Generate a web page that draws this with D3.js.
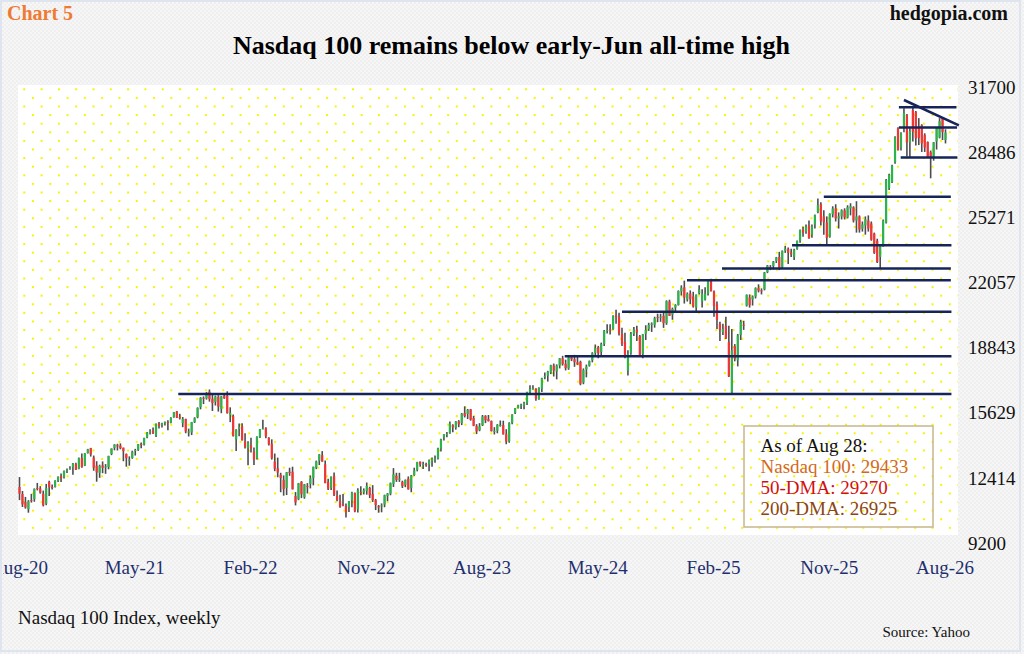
<!DOCTYPE html>
<html><head><meta charset="utf-8">
<script src="https://cdn.jsdelivr.net/npm/d3@7"></script>
<style>html,body{margin:0;padding:0;background:#fff} svg{display:block}</style>
</head><body>
<svg id="chart" width="1024" height="654"></svg>
<script>
// ---------------- DATA ----------------
const firstWeek = "2020-08-31";            // weekly candles, one per week
const xTickLabels = ["Aug-20","May-21","Feb-22","Nov-22","Aug-23","May-24","Feb-25","Nov-25","Aug-26"];
const xTickEvery = 39;                      // weeks between labels
const yTicks = [9200,12414,15629,18843,22057,25271,28486,31700];

const open = [
// 2020
11950,11600,11200,10850,11300,11350,11900,11870,11620,11120,12200,11950,11950,12270,12480,12420,12760,12850,
// 2021
12920,13090,12850,13380,13000,13620,13870,13400,13000,12650,13020,12920,12930,13580,13880,14010,13990,13890,13580,13300,13380,13750,13780,14080,14040,14400,14660,14730,14500,15080,15000,15100,15150,15120,15400,15680,15400,15100,15300,14650,14640,15150,15390,15890,16350,16320,16650,16300,16150,16400,15800,16450,
// 2022
16450,15500,15450,14300,14820,14950,14200,13870,14000,13700,13360,14400,14830,14850,14380,14080,13200,12880,12550,12300,11900,12700,12700,11500,11350,12200,11450,12000,12100,12400,12900,13250,13520,13070,12200,11900,12500,11500,11250,11100,11000,10950,11300,11650,10850,11700,11680,11750,11900,11600,11300,11000,
// 2023
11000,11080,11500,11620,12100,12500,12350,12200,12050,12360,11900,12540,12800,13200,13050,13080,13050,13240,13300,13360,13850,14400,14550,14600,15000,14880,15190,15100,15600,15550,15780,15350,14950,14750,15000,15460,15300,15200,14680,14730,15000,15000,14550,14200,15100,15600,15850,15980,15980,16100,16630,16810,
// 2024
16800,16280,16800,17370,17440,17600,17950,17650,17950,18300,18030,17800,18350,18250,18100,18120,17100,17750,17930,18200,18560,18850,18610,19000,19680,19720,19740,20420,20350,19500,19100,17700,18550,19500,19720,19400,18500,19500,19750,19950,19950,20330,20300,20400,20030,21100,20450,20800,20930,21600,21800,21200,
// 2025
21500,21350,20800,21520,21100,21200,21500,22150,21600,20950,20000,19600,19900,19100,16600,18900,18200,19450,19950,20900,21300,21200,21350,21760,21650,21700,22550,22800,22850,23100,23300,22800,23600,23700,23520,23300,23700,24100,24650,24550,24850,24400,24900,25500,25900,25300,25000,24300,25400,25700,25200,25300,
// 2026
25600,25250,25700,25750,25100,25300,24700,24850,25100,24950,24450,24100,23300,23880,25000,26700,27000,27980,29650,28700,29700,30300,28950,30550,30450,29650,29800,29310,28970,28470,28200,29000,29200,30150,29070
];
const high = [
// 2020
12440,11750,11460,11300,11610,11880,12150,11990,11770,12100,12260,12070,12280,12470,12610,12760,12860,12970,
// 2021
13130,13150,13400,13600,13620,13830,13880,13500,13220,13050,13210,13080,13490,13850,14060,14080,14100,13890,13600,13460,13740,13830,14070,14150,14380,14660,14800,14890,15080,15150,15120,15180,15240,15390,15650,15700,15560,15400,15320,14830,15160,15390,15880,16380,16420,16630,16760,16570,16460,16480,16440,16570,
// 2022
16670,15880,15520,14800,15080,15090,14600,14200,14380,13900,14450,14810,15270,14900,14400,14300,13600,13400,12650,12520,12690,12900,12950,11700,12150,12240,12100,12140,12520,12950,13250,13570,13720,13250,12350,12470,12660,11780,11560,11600,11130,11260,11710,11680,11890,11990,11880,12170,11960,12040,11360,11060,
// 2023
11140,11570,11650,12170,12880,12650,12650,12260,12320,12470,12540,12900,13190,13210,13200,13150,13300,13400,13500,13880,14330,14550,14660,15180,15050,15200,15250,15600,15930,15800,15800,15450,15050,15100,15500,15490,15500,15230,14900,15050,15230,15220,14800,15140,15540,15850,16010,16060,16150,16650,16970,16970,
// 2024
16820,16870,17340,17600,17680,17980,18040,18000,18310,18420,18230,18460,18420,18470,18460,18180,17800,17990,18190,18600,18980,18910,19070,19700,19980,19980,20420,20690,20550,19800,19560,18700,19600,19840,19900,19450,19500,19930,20050,20070,20350,20500,20500,20580,21160,21190,20800,20970,21650,21900,22130,21550,
// 2025
21650,21580,21450,21900,21700,21800,22150,22220,21650,21100,20100,20000,20350,19900,19750,19000,19500,20200,20150,21450,21450,21400,21800,21950,21750,22560,22900,22900,23100,23300,23550,23620,23850,23760,23700,23700,24110,24650,24790,24900,25100,24900,25400,26180,26000,25600,25300,25450,25800,25900,25500,25650,
// 2026
25700,25850,25950,25800,26050,25350,25050,25300,25350,25050,24500,24200,23900,25150,27150,27400,27850,29250,29700,29450,30640,30350,29650,30710,30500,30150,29850,29400,29000,28550,28970,29700,30150,30150,29600
];
const low = [
// 2020
11300,10960,10880,10680,11180,11220,11780,11620,10990,11050,11500,11820,11920,12200,12200,12370,12640,12800,
// 2021
12550,12790,12830,12900,12980,13600,13450,12750,12210,12400,12630,12600,12820,13520,13760,13750,13810,13220,12950,13000,13340,13500,13730,13860,13990,14350,14540,14560,14420,14840,14880,14980,14750,15090,15360,15350,15280,14900,14600,14440,14510,15110,15340,15780,16040,16260,16160,15700,15970,15670,15590,16300,
// 2022
15570,15150,14440,13730,14450,14240,13850,13020,13650,13040,13300,14370,14800,14350,13990,13300,12730,12430,11690,11520,11550,12500,11830,11040,11300,11400,11370,11630,11880,12030,12830,13030,13200,12130,11800,11800,11500,11240,10930,11000,10440,10720,10950,10700,10690,11540,11580,11570,11400,11210,10810,10680,
// 2023
10700,10950,11250,11540,11950,12200,12200,11900,11940,11820,11690,12500,12720,12950,12840,12950,12720,12950,13150,13300,13700,14240,14400,14580,14650,14780,14900,15000,15380,15300,15220,14950,14560,14700,14960,15100,15180,14690,14540,14600,14930,14540,14060,14130,15040,15550,15820,15800,15780,16000,16500,16750,
// 2024
16200,16250,16640,17270,17150,17520,17400,17260,17800,17940,17700,17730,18160,17880,17970,16970,17020,17360,17890,18100,18450,18300,18460,18900,19520,19470,19710,20000,19420,18900,18300,17450,18480,19400,19150,18400,18300,19200,19650,19600,19810,20080,20100,19800,19950,20390,20200,20600,20900,21400,21000,21100,
// 2025
20980,20800,20540,21450,20800,21150,21400,21600,20350,19750,19150,19450,19250,17370,16540,18150,17900,19200,19700,20850,20800,20900,21250,21550,21450,21650,22500,22650,22680,23000,22650,22750,23500,22950,23300,23150,23650,24000,24300,24450,24200,24250,24700,25450,24850,24400,23870,24250,25250,25050,24700,25150,
// 2026
25150,25200,25350,25000,24500,24500,24550,24400,24550,24100,23450,23000,22720,23800,24950,26600,26950,27900,28550,28550,29450,28250,28200,29000,28800,28820,28480,28480,28180,27180,28050,28600,29150,29070,28900
];
const close = [
// 2020
11620,11090,10940,11240,11290,11850,11850,11670,11050,11900,11940,11900,12260,12460,12380,12740,12800,12890,
// 2021
13110,12800,13370,12930,13610,13810,13550,12910,12670,12990,12890,12960,13480,13850,14040,13950,13860,13720,13370,13300,13690,13770,14070,14020,14370,14640,14690,14590,15070,14960,15090,15160,15100,15370,15650,15370,15330,15310,14690,14680,15150,15340,15850,16350,16300,16570,16280,16090,16410,15910,16420,16320,
// 2022
15590,15610,14460,14780,14910,14250,13900,14140,13840,13300,14420,14800,14840,14450,14050,13360,12850,12660,12390,11840,12680,12640,11830,11190,12130,11590,12080,11980,12380,12950,13210,13560,13200,12140,11860,12460,11550,11310,10970,11040,10690,11250,11670,10750,11800,11680,11790,12000,11540,11300,11060,10940,
// 2023
11040,11540,11620,12140,12570,12300,12360,11990,12300,11830,12520,12770,13180,13060,13080,13070,13250,13340,13340,13850,14300,14550,14570,15080,14890,15180,15040,15570,15450,15750,15270,14970,14690,14940,15430,15240,15200,14700,14720,15020,15000,14540,14180,15100,15530,15840,15980,16000,16080,16620,16780,16830,
// 2024
16310,16830,17310,17420,17640,17960,17690,17940,18300,18020,17810,18340,18250,18110,18000,17040,17720,17890,18160,18550,18810,18540,19000,19660,19700,19680,20390,20330,19520,19020,18440,18510,19510,19720,19570,18420,19490,19700,19950,20010,20270,20320,20350,20030,21120,20390,20740,20930,21620,21780,21290,21490,
// 2025
21210,20850,21440,21700,21480,21490,22110,21610,20880,20200,19700,19750,19280,17400,18690,18260,19430,20100,19920,21430,20920,21340,21760,21630,21630,22530,22870,22780,23070,23270,22760,23600,23710,23500,23420,23650,24090,24630,24500,24790,24220,24820,25360,25860,25060,25010,24240,25430,25690,25200,25300,25600,
// 2026
25250,25750,25800,25100,25300,24650,24900,25150,24700,24150,23500,23050,23850,25100,27100,27350,27800,29200,28600,29400,30400,28950,29500,29480,29150,29160,28900,28700,28200,28180,28950,29650,30000,29460,29433
];

// drawn support / resistance levels (value, first week, last week)
const levelValues = [30684, 29686, 28206, 26272, 23874, 22729, 22152, 20598, 18402, 16537];
const levelFrom   = [296.3, 296.3, 296.9, 271.0, 260.3, 236.7, 224.9, 203.0, 183.7, 53.5];
const levelTo     = [315.7, 315.9, 316.0, 313.8, 314.0, 313.8, 313.8, 314.0, 314.0, 314.0];
// descending trendline (week, value)
const trendWeeks  = [298.0, 316.5];
const trendValues = [31043, 29794];

const legendTexts  = ["As of Aug 28:", "Nasdaq 100: 29433", "50-DMA: 29270", "200-DMA: 26925"];
const legendColors = ["#111111", "#d2691e", "#d10f14", "#8b4513"];

// ---------------- DRAW ----------------
const W = 1024, H = 654;
const FONT = "'Liberation Serif','Times New Roman',serif";
const svg = d3.select("#chart");

const defs = svg.append("defs");
const dots = defs.append("pattern").attr("id","dots").attr("patternUnits","userSpaceOnUse")
  .attr("x",23.3).attr("y",88.3).attr("width",17.3).attr("height",17.2);
dots.append("rect").attr("x",0).attr("y",0).attr("width",2).attr("height",2).attr("fill","#f7f300");
dots.append("rect").attr("x",8.65).attr("y",8.6).attr("width",2).attr("height",2).attr("fill","#f7f300");
const chk = defs.append("pattern").attr("id","chk").attr("patternUnits","userSpaceOnUse")
  .attr("width",4).attr("height",4);
chk.append("rect").attr("width",4).attr("height",4).attr("fill","#f6f6f6");
chk.append("rect").attr("width",2).attr("height",2).attr("fill","#efefef");
chk.append("rect").attr("x",2).attr("y",2).attr("width",2).attr("height",2).attr("fill","#efefef");
defs.append("clipPath").attr("id","pageClip")
  .append("rect").attr("x",3).attr("y",0).attr("width",W-3).attr("height",H);

// page background + border
svg.append("rect").attr("width",W).attr("height",H).attr("fill","url(#chk)");
svg.append("rect").attr("x",1).attr("y",1).attr("width",W-5).attr("height",H-4)
  .attr("fill","none").attr("stroke","#dfe5ee").attr("stroke-width",2);

// plot area
const plot = {x0:18, y0:85, x1:958, y1:535};
svg.append("rect").attr("x",plot.x0).attr("y",plot.y0).attr("width",plot.x1-plot.x0).attr("height",plot.y1-plot.y0).attr("fill","#ffffff");
svg.append("rect").attr("x",plot.x0).attr("y",plot.y0).attr("width",plot.x1-plot.x0).attr("height",plot.y1-plot.y0).attr("fill","url(#dots)");

// scales
const n = close.length;
const x = d3.scaleLinear().domain([0, n-1]).range([19.5, 945.5]);
const y = d3.scaleLinear().domain([yTicks[0], yTicks[yTicks.length-1]]).range([542.7, 86.7]);

const t0 = new Date(firstWeek + "T00:00:00");
const weeks = d3.range(n).map(i => ({
  i, date: d3.timeWeek.offset(t0, i), o: open[i], h: high[i], l: low[i], c: close[i]
}));

// candles
const cg = svg.append("g");
cg.selectAll("line.w").data(weeks).join("line").attr("class","w")
  .attr("x1", d => x(d.i)).attr("x2", d => x(d.i))
  .attr("y1", d => y(d.h)).attr("y2", d => y(d.l))
  .attr("stroke","#4d4d4d").attr("stroke-width",1.6);
cg.selectAll("rect.b").data(weeks).join("rect").attr("class","b")
  .attr("x", d => x(d.i) - 1.1).attr("width", 2.2)
  .attr("y", d => y(Math.max(d.o, d.c)))
  .attr("height", d => Math.max(1, Math.abs(y(d.o) - y(d.c))))
  .attr("fill", d => d.c >= d.o ? "#2db34e" : "#f23434");

// level lines
const lg = svg.append("g");
levelValues.forEach((v, k) => {
  lg.append("line").attr("x1", x(levelFrom[k])).attr("x2", x(levelTo[k]))
    .attr("y1", y(v)).attr("y2", y(v))
    .attr("stroke","#16245a").attr("stroke-width",2.6);
});
lg.append("line").attr("x1", x(trendWeeks[0])).attr("x2", x(trendWeeks[1]))
  .attr("y1", y(trendValues[0])).attr("y2", y(trendValues[1]))
  .attr("stroke","#16245a").attr("stroke-width",2.6);

// right y axis labels
const yAxis = d3.axisRight(y).tickValues(yTicks).tickSize(0).tickPadding(0).tickFormat(d => String(d));
const gy = svg.append("g").attr("transform","translate(968,0)").call(yAxis);
gy.select(".domain").remove();
gy.selectAll("text").attr("font-family",FONT).attr("font-size",19).attr("fill","#111").attr("x",0).attr("dy","0.34em");

// bottom x axis labels (first label is cut by the page edge, as in the original)
const xAxis = d3.axisBottom(x).tickValues(xTickLabels.map((_, k) => k * xTickEvery))
  .tickSize(0).tickPadding(0).tickFormat((d, k) => xTickLabels[k]);
const gxWrap = svg.append("g").attr("clip-path","url(#pageClip)");
const gx = gxWrap.append("g").attr("transform","translate(-1,574)").call(xAxis);
gx.select(".domain").remove();
gx.selectAll("text").attr("font-family",FONT).attr("font-size",19).attr("fill","#1f2f6e").attr("dy","0").attr("y",0);

// legend box
svg.append("rect").attr("x",744).attr("y",426).attr("width",189).attr("height",101)
  .attr("fill","none").attr("stroke","#cbbb93").attr("stroke-width",1.6);
svg.append("g").selectAll("text").data(legendTexts).join("text")
  .attr("x",760.5).attr("y",(d,k) => 451.5 + k*21)
  .attr("font-family",FONT).attr("font-size",19)
  .attr("fill",(d,k) => legendColors[k]).text(d => d);

// titles
svg.append("text").attr("x",7).attr("y",20).attr("font-family",FONT).attr("font-size",20)
  .attr("font-weight","bold").attr("fill","#ef7a33").text("Chart 5");
svg.append("text").attr("x",1008).attr("y",20).attr("text-anchor","end").attr("font-family",FONT).attr("font-size",20)
  .attr("font-weight","bold").attr("fill","#111").text("hedgopia.com");
svg.append("text").attr("x",511.5).attr("y",54).attr("text-anchor","middle").attr("font-family",FONT).attr("font-size",26)
  .attr("font-weight","bold").attr("fill","#000").text("Nasdaq 100 remains below early-Jun all-time high");
svg.append("text").attr("x",18).attr("y",624).attr("font-family",FONT).attr("font-size",19)
  .attr("fill","#111").text("Nasdaq 100 Index, weekly");
svg.append("text").attr("x",970).attr("y",637).attr("text-anchor","end").attr("font-family",FONT).attr("font-size",15)
  .attr("fill","#111").text("Source: Yahoo");
</script>
</body></html>
